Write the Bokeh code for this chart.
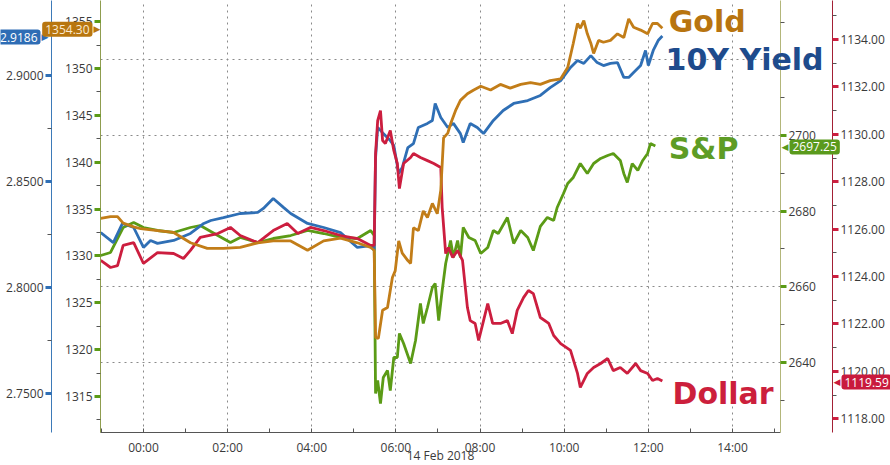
from bokeh.plotting import figure
from bokeh.models import Range1d, LinearAxis, FixedTicker, Label, PrintfTickFormatter
from bokeh.layouts import column
from bokeh.embed import file_html
from bokeh.resources import INLINE

# ---- data (time in minutes from 00:00, 14 Feb 2018) ----
gold_t = [-61, -47, -37, -29, -14, -4, 20, 43, 67, 91, 114, 138, 163, 185, 210, 234, 257, 281, 305, 324, 329,
          331, 335, 341, 348, 355, 359, 364, 369, 377, 381, 385, 392, 399, 405, 412, 419, 424, 428, 434, 438,
          445, 452, 462, 471, 481, 495, 509, 523, 538, 552, 566, 580, 595, 605, 613, 619, 623, 628, 633, 638,
          642, 649, 656, 666, 676, 685, 692, 699, 709, 719, 726, 733, 740]
gold_v = [1334.0, 1334.2, 1334.2, 1333.5, 1333.1, 1332.9, 1332.7, 1332.5, 1331.4, 1330.8, 1330.8, 1330.9,
          1331.4, 1331.6, 1331.6, 1330.6, 1331.6, 1331.9, 1331.4, 1330.9, 1330.6,
          1321.3, 1321.2, 1324.2, 1324.5, 1327.7, 1328.4, 1331.6, 1330.3, 1329.5, 1329.2, 1333.0, 1332.7,
          1334.8, 1334.1, 1335.6, 1334.5, 1337.0, 1342.6, 1343.1, 1344.1, 1345.5, 1346.6, 1347.3, 1347.7,
          1348.1, 1347.7, 1348.3, 1347.9, 1348.3, 1348.5, 1348.3, 1348.7, 1348.9, 1350.1, 1352.7, 1354.8,
          1354.3, 1355.1, 1353.7, 1352.7, 1351.6, 1353.0, 1352.8, 1353.0, 1353.7, 1353.3, 1355.3, 1354.4,
          1354.1, 1353.7, 1354.8, 1354.8, 1354.30]

yield_t = [-61, -43, -30, -14, 0, 10, 20, 43, 67, 86, 96, 114, 138, 163, 171, 185, 200, 210, 234, 257,
           281, 305, 324, 329,
           331, 334, 338, 342, 352, 357, 364, 369, 377, 385, 392, 405, 412, 416, 424, 434, 442, 452, 456,
           466, 476, 485, 499, 513, 528, 548, 566, 580, 595, 609, 619, 628, 638, 647, 656, 666, 676, 685,
           692, 699, 709, 716, 720, 727, 734, 740]
yield_v = [2.8259, 2.8212, 2.8302, 2.8283, 2.8189, 2.8222, 2.8208, 2.8222, 2.8255, 2.8302, 2.8316, 2.8330,
           2.8349, 2.8354, 2.8373, 2.8420, 2.8377, 2.8349, 2.8302, 2.8283, 2.8259, 2.8189, 2.8198, 2.8175,
           2.8613, 2.8755, 2.8741, 2.8726, 2.8693, 2.8670, 2.8538, 2.8566, 2.8660, 2.8679, 2.8755, 2.8774,
           2.8788, 2.8868, 2.8802, 2.8755, 2.8774, 2.8726, 2.8684, 2.8774, 2.8755, 2.8726, 2.8788, 2.8835,
           2.8868, 2.8882, 2.8906, 2.8943, 2.8976, 2.9038, 2.9071, 2.9057, 2.9094, 2.9061, 2.9047, 2.9057,
           2.9061, 2.8991, 2.8991, 2.9014, 2.9047, 2.9118, 2.9047, 2.9118, 2.9165, 2.9186]

sp_t = [-61, -47, -29, -14, 0, 20, 43, 67, 81, 106, 124, 138, 163, 185, 210, 234, 257, 281, 305, 324, 329,
        331, 334, 338, 342, 348, 352, 357, 362, 365, 371, 381, 388, 395, 399, 405, 412, 416, 421, 426, 431,
        438, 442, 448, 452, 456, 464, 473, 481, 491, 499, 506, 519, 528, 538, 548, 556, 566, 576, 585, 590,
        599, 605, 613, 623, 633, 642, 652, 662, 670, 680, 685, 690, 697, 705, 712, 719, 723, 730]
sp_v = [2668.25, 2669.05, 2675.66, 2676.98, 2675.66, 2674.87, 2674.34, 2675.66, 2676.19, 2673.54,
        2671.69, 2673.02, 2671.69, 2672.75, 2673.54, 2674.87, 2674.07, 2673.02, 2672.75, 2674.87, 2673.54,
        2631.75, 2635.19, 2629.10, 2635.98, 2637.83, 2632.54, 2641.27, 2641.27, 2647.62, 2644.97,
        2639.68, 2645.77, 2655.56, 2650.26, 2654.50, 2659.79, 2660.85, 2651.06, 2658.99, 2666.14,
        2672.22, 2667.72, 2672.22, 2667.72, 2675.66, 2673.02, 2672.22, 2668.78, 2670.37, 2674.87,
        2674.07, 2678.31, 2671.43, 2674.87, 2673.02, 2669.58, 2675.93, 2678.31, 2677.51, 2680.95,
        2684.66, 2687.30, 2688.89, 2692.59, 2689.95, 2692.59, 2693.92, 2694.71, 2695.24, 2693.39,
        2689.95, 2687.57, 2692.59, 2690.74, 2693.39, 2695.24, 2697.88, 2697.25]

usd_t = [-61, -47, -37, -29, -14, 0, 20, 43, 57, 67, 81, 106, 124, 138, 163, 185, 205, 220, 238, 257,
         281, 305, 324, 329,
         331, 334, 338, 341, 345, 352, 357, 362, 365, 371, 381, 385, 395, 405, 414, 424, 426, 431, 435,
         441, 448, 455, 462, 466, 473, 478, 485, 491, 498, 509, 519, 526, 533, 542, 549, 556, 566, 578,
         585, 595, 609, 619, 623, 633, 642, 652, 662, 670, 680, 690, 702, 709, 719, 726, 733, 740]
usd_v = [1124.68, 1124.38, 1124.46, 1125.31, 1125.43, 1124.55, 1125.01, 1124.97, 1124.76, 1125.10,
         1125.65, 1125.81, 1126.07, 1125.73, 1125.43, 1125.94, 1126.24, 1125.81, 1126.07, 1125.94,
         1125.73, 1125.60, 1125.31, 1125.31,
         1129.19, 1130.58, 1131.00, 1129.74, 1129.61, 1130.16, 1129.32, 1128.77, 1127.71, 1128.77,
         1129.02, 1129.19, 1129.02, 1128.89, 1128.77, 1128.60, 1126.91, 1124.97, 1125.22, 1124.80,
         1125.10, 1124.68, 1122.69, 1122.14, 1122.02, 1121.30, 1122.14, 1122.86, 1122.02, 1122.02,
         1122.14, 1121.59, 1122.57, 1123.11, 1123.41, 1123.28, 1122.27, 1122.02, 1121.51, 1121.17,
         1120.88, 1119.91, 1119.32, 1119.91, 1120.16, 1120.33, 1120.54, 1120.03, 1120.16, 1119.91,
         1120.33, 1120.03, 1119.91, 1119.61, 1119.70, 1119.59]

hour_ticks = [0, 120, 240, 360, 480, 600, 720, 840]
hour_labels = ["00:00", "02:00", "04:00", "06:00", "08:00", "10:00", "12:00", "14:00"]
hour_minor = [-60, 60, 180, 300, 420, 540, 660, 780, 900]
date_label = "14 Feb 2018"

gold_ticks = [1315, 1320, 1325, 1330, 1335, 1340, 1345, 1350, 1355]
gold_minor = [1312.5, 1317.5, 1322.5, 1327.5, 1332.5, 1337.5, 1342.5, 1347.5, 1352.5]
yield_ticks = [2.75, 2.80, 2.85, 2.90]
yield_minor = [2.775, 2.825, 2.875, 2.925]
sp_ticks = [2640, 2660, 2680, 2700]
sp_minor = [2630, 2650, 2670, 2690, 2710, 2730]
sp_grid = [2640, 2660, 2680, 2700, 2720]
usd_ticks = [1118, 1120, 1122, 1124, 1126, 1128, 1130, 1132, 1134]
usd_minor = [1119, 1121, 1123, 1125, 1127, 1129, 1131, 1133, 1135]

series_names = ["Gold", "10Y Yield", "S&P", "Dollar"]

# ---- layout / style ----
GOLD, BLUE, GREEN, RED = "#c27d18", "#2f6fb5", "#5b9b16", "#cc1e3f"
GOLD_T, BLUE_T, GREEN_T, RED_T = "#b8740f", "#1e4b8c", "#5e9c25", "#cc1f3c"
FONT = "Open Sans"
TXT = "#3a3a3a"
CW, CH = 890, 465            # canvas
FL, FW, FH = 100, 680, 432   # frame left, width, height (top at 0)

xr = (-61.3, 908.5)
ranges = {"gold": (1311.153, 1357.257), "y10": (2.7316, 2.93538),
          "sp": (2621.43, 2735.71), "usd": (1117.418, 1135.646)}

p = figure(frame_width=FW, frame_height=FH,
           x_range=Range1d(*xr), y_range=Range1d(*ranges["gold"]),
           output_backend="svg", toolbar_location=None,
           min_border_left=FL, min_border_right=CW - FL - FW, min_border_top=0,
           min_border_bottom=CH - FH,
           outline_line_color=None, background_fill_color="white", border_fill_color="white")
p.extra_y_ranges = {k: Range1d(*ranges[k]) for k in ("y10", "sp", "usd")}


def style_y(ax, line_color, tick_color, standoff=3):
    ax.axis_line_color = line_color
    ax.axis_line_width = 1
    ax.major_tick_line_color = tick_color
    ax.major_tick_line_width = 3
    ax.major_tick_out = 6
    ax.major_tick_in = 0
    ax.minor_tick_line_color = "#555555"
    ax.minor_tick_line_width = 1
    ax.minor_tick_out = 4
    ax.minor_tick_in = 0
    ax.major_label_text_font = FONT
    ax.major_label_text_font_size = "12px"
    ax.major_label_text_color = TXT
    ax.major_label_standoff = standoff


ga = p.yaxis[0]
ga.ticker = FixedTicker(ticks=gold_ticks, minor_ticks=gold_minor)
ga.formatter = PrintfTickFormatter(format="%d")
style_y(ga, "#8f9d4f", GREEN, standoff=2)
ga.axis_label = " "
ga.axis_label_text_font_size = "1px"
ga.axis_label_standoff = 6

ya = LinearAxis(y_range_name="y10", ticker=FixedTicker(ticks=yield_ticks, minor_ticks=yield_minor),
                formatter=PrintfTickFormatter(format="%.4f"))
style_y(ya, "#3d7ab8", BLUE, standoff=2)
p.add_layout(ya, "left")

sa = LinearAxis(y_range_name="sp", ticker=FixedTicker(ticks=sp_ticks, minor_ticks=sp_minor),
                formatter=PrintfTickFormatter(format="%d"))
style_y(sa, "#b3b67a", GREEN, standoff=2)
sa.axis_label = " "
sa.axis_label_text_font_size = "1px"
sa.axis_label_standoff = 9
p.add_layout(sa, "right")

da = LinearAxis(y_range_name="usd", ticker=FixedTicker(ticks=usd_ticks, minor_ticks=usd_minor),
                formatter=PrintfTickFormatter(format="%.2f"))
style_y(da, "#a32035", RED, standoff=2)
p.add_layout(da, "right")

xa = p.xaxis[0]
xa.ticker = FixedTicker(ticks=hour_ticks, minor_ticks=hour_minor)
xa.major_label_overrides = dict(zip(hour_ticks, hour_labels))
xa.axis_line_color = "#555555"
xa.major_tick_in = 4
xa.major_tick_out = 0
xa.minor_tick_in = 4
xa.minor_tick_out = 0
xa.major_tick_line_color = "#555555"
xa.minor_tick_line_color = "#555555"
xa.major_label_text_font = FONT
xa.major_label_text_font_size = "12px"
xa.major_label_text_color = TXT
xa.major_label_standoff = 6
xa.axis_label = date_label
xa.axis_label_text_font = FONT
xa.axis_label_text_font_size = "12px"
xa.axis_label_text_font_style = "normal"
xa.axis_label_text_color = TXT
xa.axis_label_standoff = -12

xg = p.xgrid[0]
xg.ticker = FixedTicker(ticks=hour_ticks)
xg.grid_line_color = "#8a8a8a"
xg.grid_line_dash = "2 4"
yg = p.ygrid[0]
yg.ticker = FixedTicker(ticks=sp_grid)
yg.y_range_name = "sp"
yg.grid_line_color = "#8a8a8a"
yg.grid_line_dash = "2 4"

p.line(sp_t, sp_v, y_range_name="sp", line_color=GREEN, line_width=2.8)
p.line(yield_t, yield_v, y_range_name="y10", line_color=BLUE, line_width=2.8)
p.line(usd_t, usd_v, y_range_name="usd", line_color=RED, line_width=2.8)
p.line(gold_t, gold_v, line_color=GOLD, line_width=2.8)

# ---- transparent overlay covering the whole canvas (texts that cross the frame) ----
kx = FW / (xr[1] - xr[0])
oxr = (xr[0] - FL / kx, xr[1] + (CW - FL - FW) / kx)


def ext(r):
    ky = FH / (r[1] - r[0])
    return (r[0] - (CH - FH) / ky, r[1])


o = figure(width=CW, height=CH, x_range=Range1d(*oxr), y_range=Range1d(*ext(ranges["gold"])),
           output_backend="svg", toolbar_location=None, min_border=0,
           x_axis_location=None, y_axis_location=None, outline_line_color=None,
           background_fill_color=None, border_fill_color=None)
o.extra_y_ranges = {k: Range1d(*ext(ranges[k])) for k in ("y10", "sp", "usd")}
o.grid.visible = False
o.margin = (-CH, 0, 0, 0)
if "frame_align" in o.properties():
    o.frame_align = False
    p.frame_align = False

name_pos = [(749, 1355.12, None, GOLD_T), (744.5, 2.9080, "y10", BLUE_T),
            (749, 2696.8, "sp", GREEN_T), (754.5, 1119.11, "usd", RED_T)]
for name, (nx, ny, rn, col) in zip(series_names, name_pos):
    kw = dict(y_range_name=rn) if rn else {}
    o.add_layout(Label(x=nx, y=ny, text=name, text_font="DejaVu Sans", text_font_style="bold",
                       text_font_size="30px", text_color=col, text_baseline="middle",
                       text_align="left", **kw))


def box(xs, yv, rn, txt, col, align, ptr_x, ptr, tcol="white"):
    kw = dict(y_range_name=rn) if rn else {}
    o.add_layout(Label(x=ptr_x, y=yv, x_units="screen", text=ptr, text_font="DejaVu Sans",
                       text_font_size="9px", text_color=col,
                       text_align="left" if ptr == "▶" else "right", text_baseline="middle", **kw))
    o.add_layout(Label(x=xs, y=yv, x_units="screen", text=txt, text_font=FONT, text_font_size="12px",
                       text_color=tcol, text_align=align, text_baseline="middle",
                       background_fill_color=col, padding=3, border_radius=3, **kw))


box(40, yield_v[-1], "y10", f"{yield_v[-1]:.4f}", "#2e6db5", "right", 41, "▶")
box(92, gold_v[-1], None, f"{gold_v[-1]:.2f}", "#b8760f", "right", 93, "▶", "#fbead0")
box(789, sp_v[-1], "sp", f"{sp_v[-1]:.2f}", "#5a9a1c", "left", 788, "◀")
box(841, usd_v[-1], "usd", f"{usd_v[-1]:.2f}", "#c91a3d", "left", 840, "◀")

open("out.html", "w").write(file_html(column(p, o), INLINE))
